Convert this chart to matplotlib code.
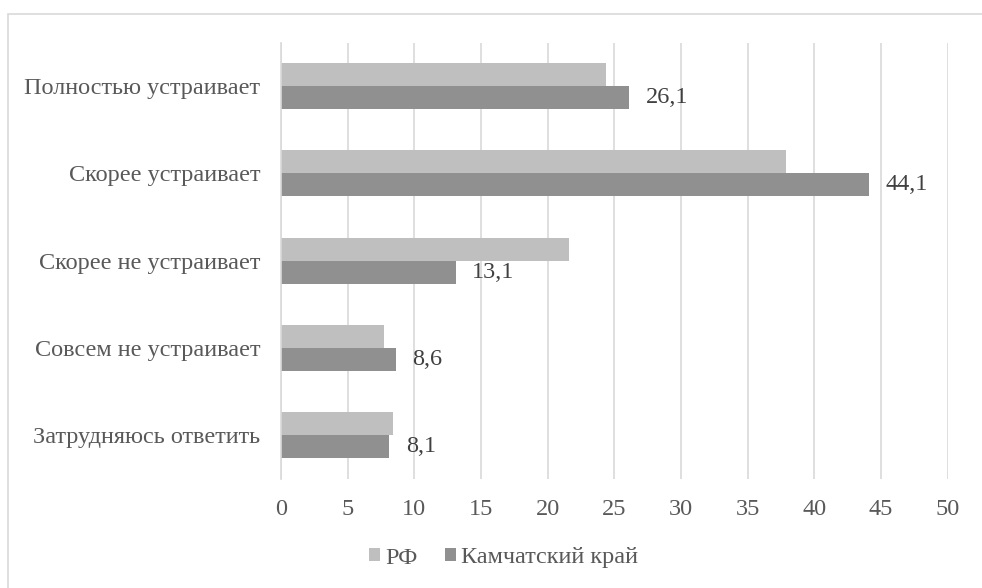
import matplotlib
matplotlib.use("Agg")
import matplotlib.pyplot as plt
import numpy as np
from matplotlib.patches import Rectangle

# data
categories = ["Полностью устраивает", "Скорее устраивает", "Скорее не устраивает",
              "Совсем не устраивает", "Затрудняюсь ответить"]
rf_values = [24.4, 37.9, 21.6, 7.7, 8.4]
kamchatka_values = [26.1, 44.1, 13.1, 8.6, 8.1]
series_names = ["РФ", "Камчатский край"]
x_ticks = [0, 5, 10, 15, 20, 25, 30, 35, 40, 45, 50]

TEXT = "#595959"
GRID = "#d9d9d9"
LIGHT = "#bfbfbf"
DARK = "#909090"
FS = 17.5

plt.rcParams["font.family"] = ["Liberation Serif", "DejaVu Serif"]

W, H = 982, 588
fig = plt.figure(figsize=(W / 100, H / 100), dpi=100)

# outer chart border (only top/left visible in the reference)
fig.patches.append(Rectangle((8 / W, -0.1), 1.2, 1 - 14 / H + 0.1,
                             transform=fig.transFigure, fill=False,
                             edgecolor=GRID, linewidth=1.2))

ax = fig.add_axes([281 / W, 1 - 478.5 / H, (947.7 - 281) / W, (478.5 - 42.7) / H])

y = np.arange(len(categories))
h = 0.264
ax.barh(y - h / 2, rf_values, height=h, color=LIGHT, label=series_names[0], zorder=3)
bars = ax.barh(y + h / 2, kamchatka_values, height=h, color=DARK, label=series_names[1], zorder=3)

for rect, v in zip(bars, kamchatka_values):
    ax.annotate(f"{v:.1f}".replace(".", ","),
                (rect.get_width(), rect.get_y() + rect.get_height() / 2),
                xytext=(12, 0), textcoords="offset points",
                ha="left", va="center", fontsize=FS, color="#404040")

ax.set_xlim(0, 50)
ax.set_ylim(len(categories) - 0.5, -0.5)
ax.set_xticks(x_ticks)
ax.set_yticks(y)
ax.set_yticklabels(categories)
ax.tick_params(axis="both", length=0, colors=TEXT, labelsize=FS)
ax.tick_params(axis="y", pad=15)
ax.tick_params(axis="x", pad=15)
ax.grid(axis="x", color=GRID, linewidth=1.2, zorder=0)

for side in ["top", "right", "bottom"]:
    ax.spines[side].set_visible(False)
ax.spines["left"].set_color(GRID)
ax.spines["left"].set_linewidth(1.2)
ax.spines["left"].set_zorder(4)

leg = fig.legend(loc="center", bbox_to_anchor=(503.5 / W, 1 - 558 / H), ncol=2,
                 frameon=False, fontsize=FS, handlelength=0.45, handleheight=0.45,
                 handletextpad=0.2, columnspacing=1.15, labelcolor=TEXT)

fig.savefig("out.png", dpi=100, facecolor="white")
